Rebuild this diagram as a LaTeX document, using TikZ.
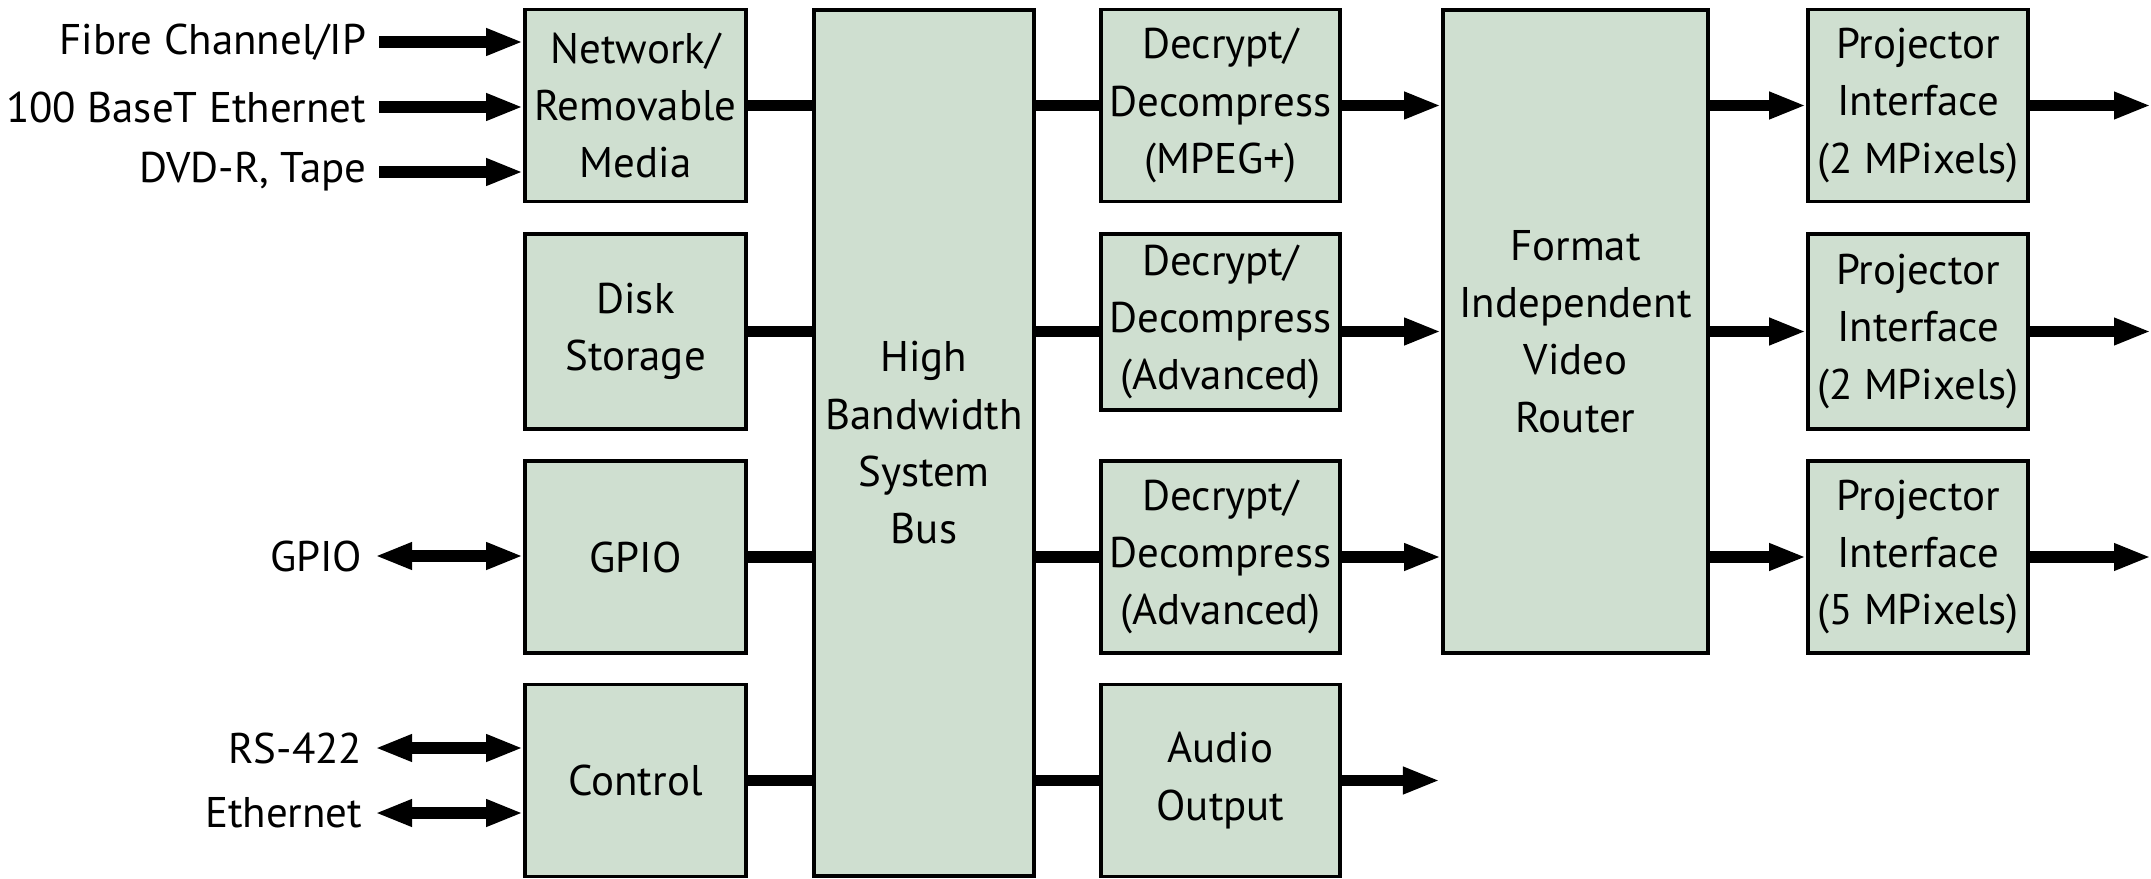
\documentclass[tikz,border=0pt]{standalone}
\usepackage{fontspec}
\setmainfont{PT Sans}
\usetikzlibrary{arrows.meta}
\definecolor{boxfill}{HTML}{CFDFD0}
\tikzset{
  blk/.style={draw=black, line width=1pt, fill=boxfill, inner sep=0pt, align=center,
    font=\fontsize{12.2pt}{16.3pt}\selectfont},
  lbl/.style={anchor=east, inner xsep=0.12cm, inner ysep=0pt, font=\fontsize{12.2pt}{16.3pt}\selectfont},
  bus/.style={line width=3.4pt},
  arr/.style={line width=3.4pt, -{Triangle[length=3.7mm,width=2.5mm]}},
  darr/.style={line width=3.4pt, {Triangle[length=3.7mm,width=2.5mm]}-{Triangle[length=3.7mm,width=2.5mm]}}
}
\begin{document}
\begin{tikzpicture}[x=0.01cm,y=-0.01cm]
\useasboundingbox (0,0) rectangle (2151,879);
% column A
\node[blk, minimum width=2.21cm, minimum height=1.92cm] (net) at (635.5,105.5) {Network/\\Removable\\Media};
\node[blk, minimum width=2.21cm, minimum height=1.95cm] (disk) at (635.5,331.5) {Disk\\Storage};
\node[blk, minimum width=2.21cm, minimum height=1.92cm] (gpio) at (635.5,557) {GPIO};
\node[blk, minimum width=2.21cm, minimum height=1.92cm] (ctrl) at (635.5,780.5) {Control};
% bus
\node[blk, minimum width=2.2cm, minimum height=8.66cm] (bus) at (924,443) {High\\Bandwidth\\System\\Bus};
% column C
\node[blk, minimum width=2.39cm, minimum height=1.92cm] (dec1) at (1220.5,105.5) {Decrypt/\\Decompress\\(MPEG+)};
\node[blk, minimum width=2.39cm, minimum height=1.76cm] (dec2) at (1220.5,322) {Decrypt/\\Decompress\\(Advanced)};
\node[blk, minimum width=2.39cm, minimum height=1.92cm] (dec3) at (1220.5,557) {Decrypt/\\Decompress\\(Advanced)};
\node[blk, minimum width=2.39cm, minimum height=1.92cm] (audio) at (1220.5,780.5) {Audio\\Output};
% router
\node[blk, minimum width=2.65cm, minimum height=6.43cm] (router) at (1575.5,331.5) {Format\\Independent\\Video\\Router};
% projectors
\node[blk, minimum width=2.2cm, minimum height=1.92cm] (proj1) at (1918,105.5) {Projector\\Interface\\(2 MPixels)};
\node[blk, minimum width=2.2cm, minimum height=1.95cm] (proj2) at (1918,331.5) {Projector\\Interface\\(2 MPixels)};
\node[blk, minimum width=2.2cm, minimum height=1.92cm] (proj3) at (1918,557) {Projector\\Interface\\(5 MPixels)};
% left labels
\node[lbl] (lfc) at (379,42) {Fibre Channel/IP};
\node[lbl] (leth) at (379,107) {100 BaseT Ethernet};
\node[lbl] (ldvd) at (379,172) {DVD-R, Tape};
\node[lbl] (lgpio) at (375,556) {GPIO};
\node[lbl] (lrs) at (375,748) {RS-422};
\node[lbl] (lce) at (375,813) {Ethernet};
% inputs
\draw[arr] (lfc.east) -- (lfc.east -| net.west);
\draw[arr] (leth.east) -- (leth.east -| net.west);
\draw[arr] (ldvd.east) -- (ldvd.east -| net.west);
\draw[darr] (lgpio.east) -- (lgpio.east -| gpio.west);
\draw[darr] (lrs.east) -- (lrs.east -| ctrl.west);
\draw[darr] (lce.east) -- (lce.east -| ctrl.west);
% to bus
\draw[bus] (net.east) -- (net.east -| bus.west);
\draw[bus] (disk.east) -- (disk.east -| bus.west);
\draw[bus] (gpio.east) -- (gpio.east -| bus.west);
\draw[bus] (ctrl.east) -- (ctrl.east -| bus.west);
% from bus
\draw[bus] (bus.east |- dec1.west) -- (dec1.west);
\draw[bus] (bus.east |- disk.east) -- (dec2.west |- disk.east);
\draw[bus] (bus.east |- dec3.west) -- (dec3.west);
\draw[bus] (bus.east |- audio.west) -- (audio.west);
% to router
\draw[arr] (dec1.east) -- (dec1.east -| router.west);
\draw[arr] (dec2.east |- disk.east) -- (router.west |- disk.east);
\draw[arr] (dec3.east) -- (dec3.east -| router.west);
\coordinate (aout) at (1440,780.5);
\draw[arr] (audio.east) -- (aout);
% router to projectors
\draw[arr] (router.east |- proj1.west) -- (proj1.west);
\draw[arr] (router.east |- proj2.west) -- (proj2.west);
\draw[arr] (router.east |- proj3.west) -- (proj3.west);
% projector outputs
\coordinate (p1out) at (2151,105.5);
\coordinate (p2out) at (2151,331.5);
\coordinate (p3out) at (2151,557);
\draw[arr] (proj1.east) -- (p1out);
\draw[arr] (proj2.east) -- (p2out);
\draw[arr] (proj3.east) -- (p3out);
\end{tikzpicture}
\end{document}
